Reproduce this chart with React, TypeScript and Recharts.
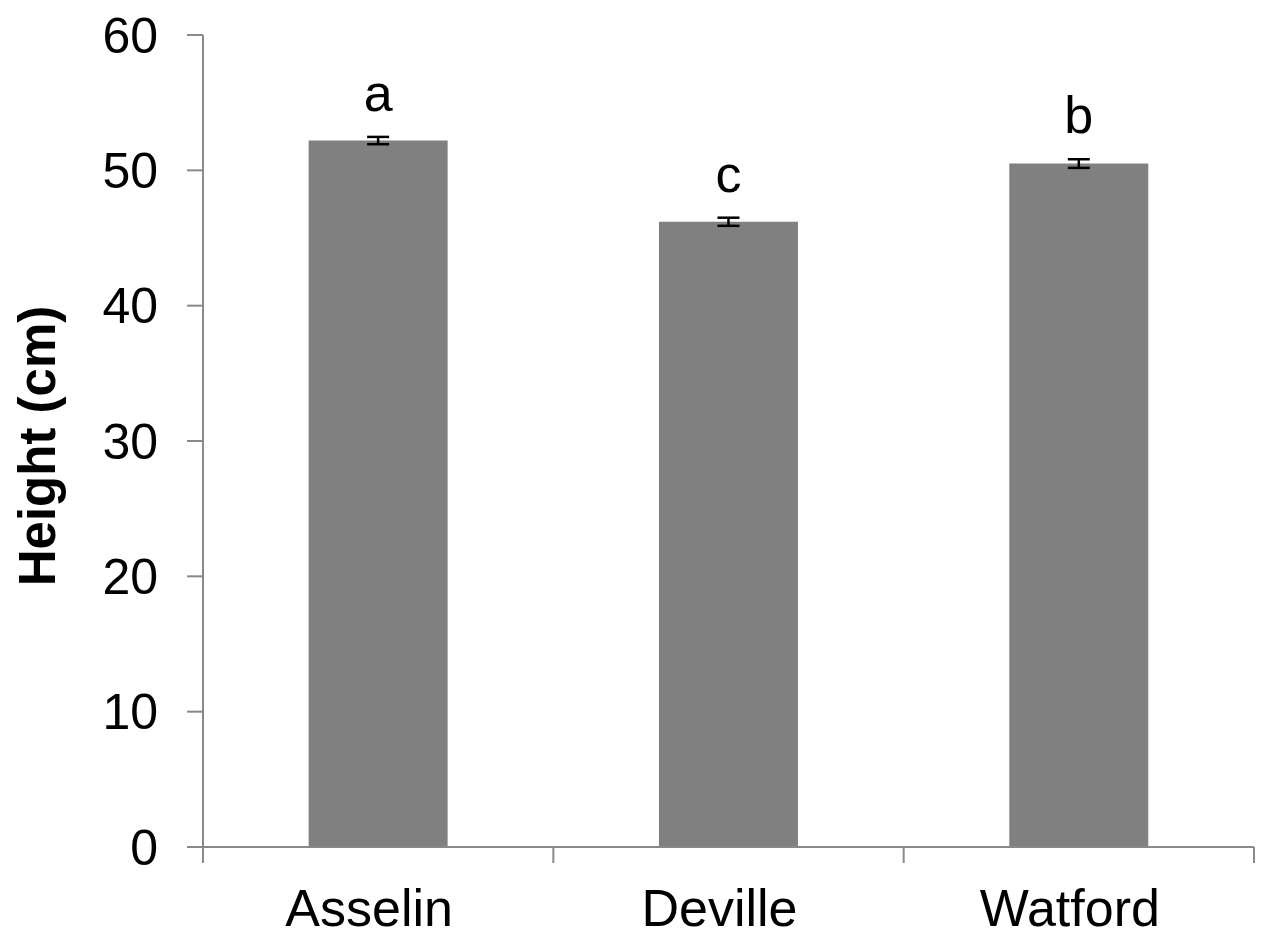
import React from 'react';
import { BarChart, Bar, XAxis, YAxis, ErrorBar, LabelList } from 'recharts';

const categories = ['Asselin', 'Deville', 'Watford'];
const heights = [52.2, 46.2, 50.5];
const errors = [0.27, 0.3, 0.32];
const letters = ['a', 'c', 'b'];
const yTicks = [0, 10, 20, 30, 40, 50, 60];

const data = categories.map((c, i) => ({ name: c, height: heights[i], err: errors[i], letter: letters[i] }));

const FONT = '"Liberation Sans", Arial, sans-serif';
const AXIS = '#898989';
const TICK = 16;
const MARGIN = 26;

const XTick = (props: any) => {
  const { x, y, payload, index, visibleTicksCount } = props;
  const half = payload && payload.offset ? payload.offset : 0;
  const axisY = y - TICK - MARGIN;
  const last = index === (visibleTicksCount ?? categories.length) - 1;
  return (
    <g>
      <line x1={x - half} y1={axisY} x2={x - half} y2={axisY + TICK} stroke={AXIS} strokeWidth={2} />
      {last && <line x1={x + half} y1={axisY} x2={x + half} y2={axisY + TICK} stroke={AXIS} strokeWidth={2} />}
      <text x={x - 9} y={y} dy="0.71em" textAnchor="middle" fontSize={52} fontFamily={FONT} fill="#000">
        {payload.value}
      </text>
    </g>
  );
};

const LetterLabel = (props: any) => {
  const { x, y, width, height, value, index } = props;
  const v = heights[index];
  const pxPerUnit = v ? height / v : 0;
  const top = y - errors[index] * pxPerUnit;
  return (
    <text x={x + width / 2} y={top - 26} textAnchor="middle" fontSize={52} fontFamily={FONT} fill="#000">
      {value}
    </text>
  );
};

export default function App() {
  return (
    <div style={{ position: 'absolute', left: 0, top: 0, width: 1267, height: 943, background: '#fff' }}>
      <BarChart width={1267} height={943} data={data} margin={{ top: 35, right: 13, bottom: 0, left: 0 }} barCategoryGap="30.15%">
        <XAxis
          dataKey="name"
          height={96}
          tickLine={false}
          tickSize={TICK}
          tickMargin={MARGIN}
          axisLine={{ stroke: AXIS, strokeWidth: 2 }}
          tick={<XTick />}
          interval={0}
        />
        <YAxis
          width={203}
          domain={[0, 60]}
          ticks={yTicks}
          interval={0}
          tickSize={TICK}
          tickMargin={29}
          axisLine={{ stroke: AXIS, strokeWidth: 2 }}
          tickLine={{ stroke: AXIS, strokeWidth: 2 }}
          tick={{ fontSize: 50, fontFamily: FONT, fill: '#000' }}
          label={{
            content: () => (
              <text
                x={37}
                y={446}
                transform="rotate(-90, 37, 446)"
                textAnchor="middle"
                dominantBaseline="central"
                fontSize={51}
                fontWeight="bold"
                fontFamily={FONT}
                fill="#000"
              >
                Height (cm)
              </text>
            ),
          }}
        />
        <Bar dataKey="height" fill="#808080" isAnimationActive={false}>
          <ErrorBar dataKey="err" width={11} stroke="#000" strokeWidth={2.5} direction="y" />
          <LabelList dataKey="letter" content={<LetterLabel />} />
        </Bar>
      </BarChart>
    </div>
  );
}
